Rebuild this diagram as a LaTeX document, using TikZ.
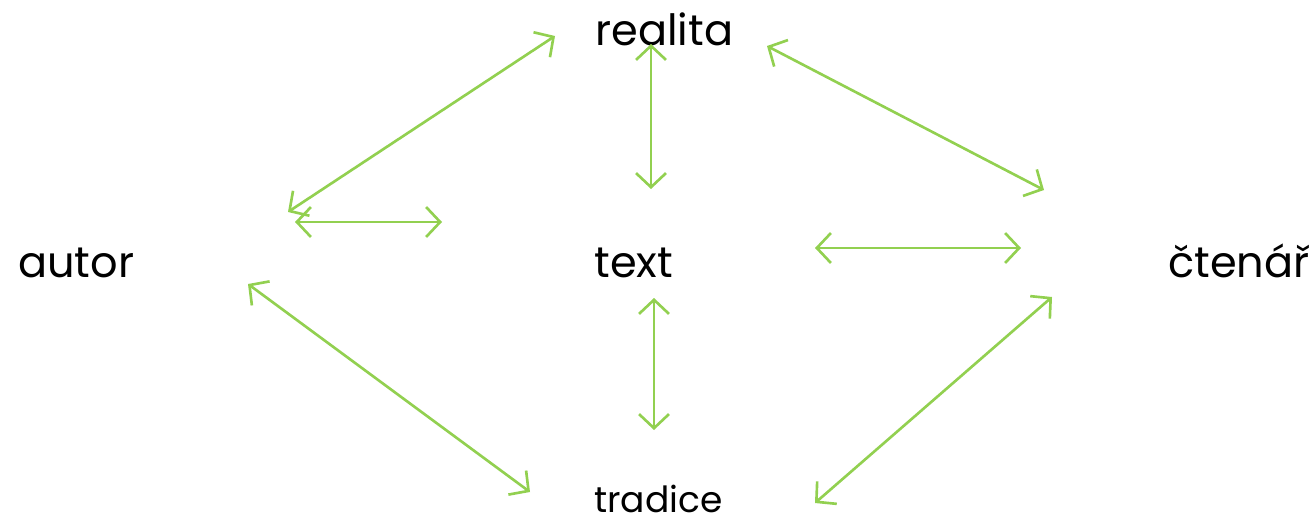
\documentclass[tikz,border=0pt]{standalone}
\usepackage{fontspec}
\setmainfont{Poppins}
\usetikzlibrary{arrows.meta}
\definecolor{listgreen}{HTML}{92D050}

\begin{document}
\begin{tikzpicture}[x=0.02cm, y=-0.02cm,
    word/.style={anchor=base west, inner sep=0pt, font=\fontsize{24.5}{29}\selectfont},
    link/.style={{Straight Barb[length=8pt,width=17pt]}-{Straight Barb[length=8pt,width=17pt]}, listgreen, line width=1.5pt}]
            \useasboundingbox (0,0) rectangle (1315,524);
            % Pojmy
            \node[word] (realita) at (595,45) {realita};
            \node[word] (autor) at (18,277) {autor};
            \node[word] (text) at (594,277) {text};
            \node[word] (ctenar) at (1168,277) {čtenář};
            \node[word, font=\fontsize{20.5}{25}\selectfont] (tradice) at (594,512) {tradice};

            % Konce sipek
            \coordinate (ar1) at (288,212);  \coordinate (ar2) at (555,36);
            \coordinate (at1) at (295,222);  \coordinate (at2) at (442,222);
            \coordinate (rt1) at (651,44);   \coordinate (rt2) at (651,189);
            \coordinate (rc1) at (767,46);   \coordinate (rc2) at (1044,190);
            \coordinate (tc1) at (815,248);  \coordinate (tc2) at (1021,248);
            \coordinate (ad1) at (248,284);  \coordinate (ad2) at (530,492);
            \coordinate (td1) at (654,298);  \coordinate (td2) at (654,430);
            \coordinate (dc1) at (815,503);  \coordinate (dc2) at (1052,297);

            % Vztahy
            \draw[link] (ar1) -- (ar2);
            \draw[link] (at1) -- (at2);
            \draw[link] (rt1) -- (rt2);
            \draw[link] (rc1) -- (rc2);
            \draw[link] (tc1) -- (tc2);
            \draw[link] (ad1) -- (ad2);
            \draw[link] (td1) -- (td2);
            \draw[link] (dc1) -- (dc2);
\end{tikzpicture}
\end{document}
